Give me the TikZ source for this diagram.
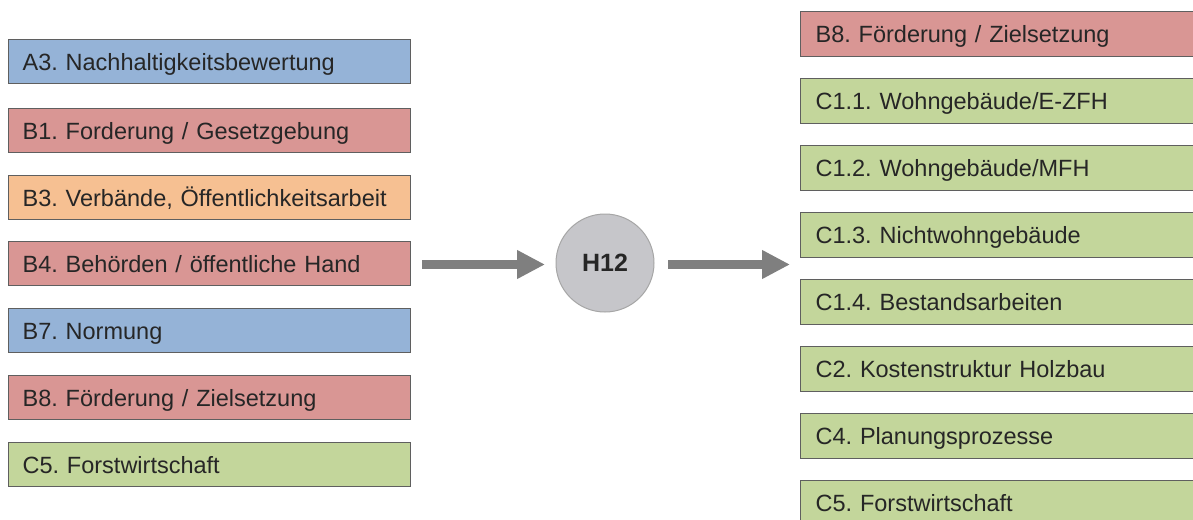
\documentclass[tikz,border=0pt]{standalone}
\usepackage{fontspec}
\setmainfont{Liberation Sans}
\usetikzlibrary{arrows.meta}
\frenchspacing
\definecolor{cblue}{HTML}{95B3D7}
\definecolor{cred}{HTML}{D99694}
\definecolor{corange}{HTML}{F6C092}
\definecolor{cgreen}{HTML}{C3D69B}
\definecolor{cborder}{HTML}{5F5F5F}
\definecolor{ctext}{HTML}{262626}
\definecolor{carrow}{HTML}{7F7F7F}
\definecolor{ccircle}{HTML}{C6C6CA}
\definecolor{ccircleb}{HTML}{A6A6A6}
\tikzset{
  lbox/.style={draw=cborder, line width=1.2pt, anchor=north west, minimum height=44pt,
    text width=374pt, inner xsep=14pt, inner ysep=0pt, align=left, text=ctext,
    text height=17pt, text depth=0pt,
    font=\fontsize{23.5}{26}\selectfont\frenchspacing},
  rbox/.style={lbox, minimum height=45pt, text width=372pt, inner xsep=15pt},
  bigarrow/.style={draw=carrow, line width=9pt, -{Triangle[length=28pt,width=27pt]}, carrow},
}
\begin{document}
\begin{tikzpicture}[x=1pt,y=-1pt]
\clip (0,0) rectangle (1193,519);
\fill[white] (0,0) rectangle (1193,519);
% left
\node[lbox, fill=cblue]   (l1) at (8,39)  {A3. Nachhaltigkeitsbewertung};
\node[lbox, fill=cred]    (l2) at (8,108) {B1. Forderung / Gesetzgebung};
\node[lbox, fill=corange] (l3) at (8,175) {B3. Verbände, Öffentlichkeitsarbeit};
\node[lbox, fill=cred]    (l4) at (8,241) {B4. Behörden / öffentliche Hand};
\node[lbox, fill=cblue]   (l5) at (8,308) {B7. Normung};
\node[lbox, fill=cred]    (l6) at (8,375) {B8. Förderung / Zielsetzung};
\node[lbox, fill=cgreen]  (l7) at (8,442) {C5. Forstwirtschaft};
% right
\node[rbox, fill=cred]   (r1) at (800,11)  {B8. Förderung / Zielsetzung};
\node[rbox, fill=cgreen] (r2) at (800,78)  {C1.1. Wohngebäude/E-ZFH};
\node[rbox, fill=cgreen] (r3) at (800,145) {C1.2. Wohngebäude/MFH};
\node[rbox, fill=cgreen] (r4) at (800,212) {C1.3. Nichtwohngebäude};
\node[rbox, fill=cgreen] (r5) at (800,279) {C1.4. Bestandsarbeiten};
\node[rbox, fill=cgreen] (r6) at (800,346) {C2. Kostenstruktur Holzbau};
\node[rbox, fill=cgreen] (r7) at (800,413) {C4. Planungsprozesse};
\node[rbox, fill=cgreen] (r8) at (800,480) {C5. Forstwirtschaft};
% center
\node[circle, draw=ccircleb, line width=1pt, fill=ccircle, minimum size=98pt, inner sep=0pt,
  text=ctext, font=\fontsize{25}{28}\selectfont\bfseries] (h) at (605,263) {H12};
\coordinate (a1s) at (422,264.5);
\coordinate (a1e) at (545,264.5);
\coordinate (a2s) at (668,264.5);
\coordinate (a2e) at (790,264.5);
\draw[bigarrow] (a1s) -- (a1e);
\draw[bigarrow] (a2s) -- (a2e);
\end{tikzpicture}
\end{document}
